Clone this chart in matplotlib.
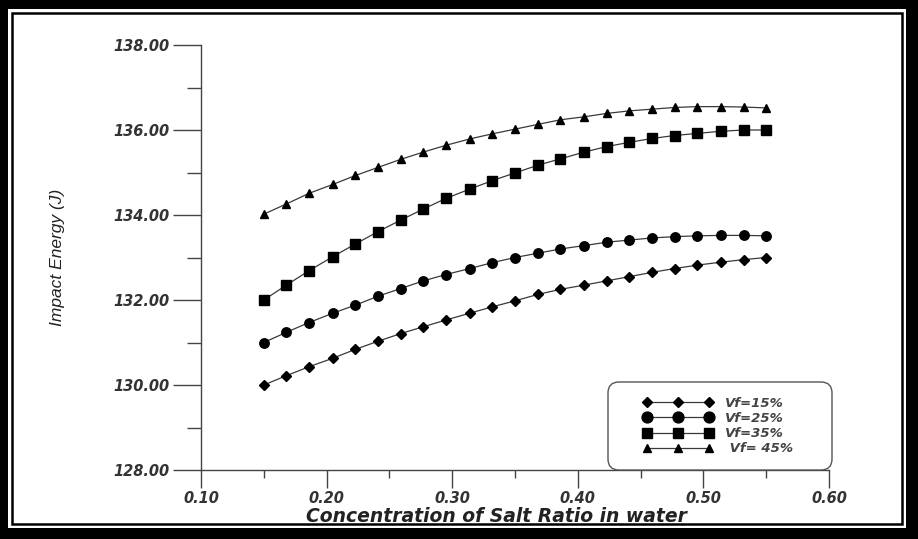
import matplotlib
matplotlib.use("Agg")
import matplotlib.pyplot as plt
from matplotlib.patches import Rectangle, FancyBboxPatch
from matplotlib.transforms import IdentityTransform
from matplotlib.ticker import MultipleLocator, FormatStrFormatter

plt.rcParams['font.family'] = ['Liberation Sans', 'DejaVu Sans']

x = [0.150, 0.168, 0.186, 0.205, 0.223, 0.241, 0.259, 0.277, 0.295, 0.314,
     0.332, 0.350, 0.368, 0.386, 0.405, 0.423, 0.441, 0.459, 0.477, 0.495,
     0.514, 0.532, 0.550]

vf15 = [130.00, 130.22, 130.43, 130.63, 130.84, 131.03, 131.21, 131.37, 131.53, 131.69,
        131.84, 131.98, 132.13, 132.25, 132.35, 132.45, 132.55, 132.65, 132.74, 132.82,
        132.89, 132.95, 133.00]
vf25 = [131.00, 131.24, 131.47, 131.69, 131.88, 132.09, 132.27, 132.45, 132.60, 132.74,
        132.88, 133.00, 133.10, 133.20, 133.28, 133.36, 133.41, 133.46, 133.49, 133.51,
        133.52, 133.52, 133.51]
vf35 = [132.00, 132.35, 132.69, 133.02, 133.32, 133.61, 133.88, 134.14, 134.39, 134.61,
        134.81, 134.99, 135.17, 135.32, 135.48, 135.61, 135.71, 135.80, 135.87, 135.92,
        135.97, 136.00, 136.00]
vf45 = [134.02, 134.26, 134.51, 134.72, 134.93, 135.12, 135.31, 135.48, 135.64, 135.79,
        135.91, 136.02, 136.13, 136.24, 136.31, 136.39, 136.45, 136.49, 136.53, 136.55,
        136.55, 136.54, 136.52]

labels = ["Vf=15%", "Vf=25%", "Vf=35%", " Vf= 45%"]
xticks = [0.10, 0.20, 0.30, 0.40, 0.50, 0.60]
yticks = [128.0, 130.0, 132.0, 134.0, 136.0, 138.0]

W, H = 918, 539
fig = plt.figure(figsize=(W / 100, H / 100), dpi=100)
fig.patch.set_facecolor('white')

def frect(x0, y0, x1, y1, **kw):
    fig.patches.append(Rectangle((x0 / W, 1 - y1 / H), (x1 - x0) / W, (y1 - y0) / H,
                                 transform=fig.transFigure, figure=fig, **kw))

# decorative double frame
frect(0, 0, W, H, facecolor='black', edgecolor='none', zorder=-10)
frect(8, 9, W - 12, H - 11, facecolor='white', edgecolor='none', zorder=-9)
frect(12, 13, W - 16, H - 15, facecolor='none', edgecolor='black', linewidth=1.8, zorder=-8)

ax = fig.add_axes([201 / W, 1 - 470 / H, 628 / W, 425 / H])
ax.set_facecolor('none')

line_kw = dict(color='#3a3a3a', linewidth=0.9, markerfacecolor='black', markeredgecolor='black')
ax.plot(x, vf15, marker='D', markersize=4.8, label=labels[0], **line_kw)
ax.plot(x, vf25, marker='o', markersize=6.8, label=labels[1], **line_kw)
ax.plot(x, vf35, marker='s', markersize=6.6, label=labels[2], **line_kw)
ax.plot(x, vf45, marker='^', markersize=5.2, label=labels[3], **line_kw)

ax.set_xlim(0.10, 0.60)
ax.set_ylim(128.0, 138.0)
ax.set_xticks(xticks)
ax.set_yticks(yticks)
ax.xaxis.set_minor_locator(MultipleLocator(0.05))
ax.yaxis.set_minor_locator(MultipleLocator(1.0))
ax.xaxis.set_major_formatter(FormatStrFormatter('%.2f'))
ax.yaxis.set_major_formatter(FormatStrFormatter('%.2f'))

for s in ['top', 'right']:
    ax.spines[s].set_visible(False)
for s in ['left', 'bottom']:
    ax.spines[s].set_color('#444444')
    ax.spines[s].set_linewidth(1.0)

ax.tick_params(axis='x', which='major', direction='out', length=13, width=1.0, color='#444444', pad=2)
ax.tick_params(axis='x', which='minor', direction='out', length=6, width=1.0, color='#444444')
ax.tick_params(axis='y', which='major', direction='out', length=20, width=1.0, color='#444444', pad=3)
ax.tick_params(axis='y', which='minor', direction='out', length=10, width=1.0, color='#444444')

for lab in ax.get_xticklabels() + ax.get_yticklabels():
    lab.set_fontfamily('DejaVu Sans')
    lab.set_fontsize(10.5)
    lab.set_fontweight('bold')
    lab.set_fontstyle('italic')
    lab.set_color('#333333')

ax.set_xlabel('Concentration of Salt Ratio in water', fontsize=13.5, fontweight='bold',
              fontstyle='italic', color='#222222', family=['DejaVu Sans'])
ax.xaxis.set_label_coords(0.47, -0.088)
ax.set_ylabel('Impact Energy (J)', fontsize=12.5, fontstyle='italic', color='#222222',
              family=['Liberation Sans Narrow', 'Liberation Sans', 'DejaVu Sans'])
ax.yaxis.set_label_coords(-0.216, 0.5)

# rounded legend frame (pixel coordinates)
box = FancyBboxPatch((608, H - 470), 832 - 608, 470 - 382,
                     boxstyle='round,pad=0,rounding_size=11',
                     transform=IdentityTransform(), facecolor='white',
                     edgecolor='#555555', linewidth=1.0, zorder=4, clip_on=False)
ax.add_patch(box)

leg = ax.legend(loc='center', bbox_to_anchor=((718 - 201) / 628, (470 - 426) / 425),
                numpoints=3, handlelength=5.3, handletextpad=0.9, labelspacing=0.17,
                markerscale=1.15, frameon=False, borderaxespad=0.0, borderpad=0.0,
                prop={'family': 'DejaVu Sans', 'size': 9.5, 'weight': 'bold', 'style': 'italic'})
leg.set_zorder(6)
for t in leg.get_texts():
    t.set_color('#444444')

fig.savefig('out.png', dpi=100, facecolor=fig.get_facecolor())
